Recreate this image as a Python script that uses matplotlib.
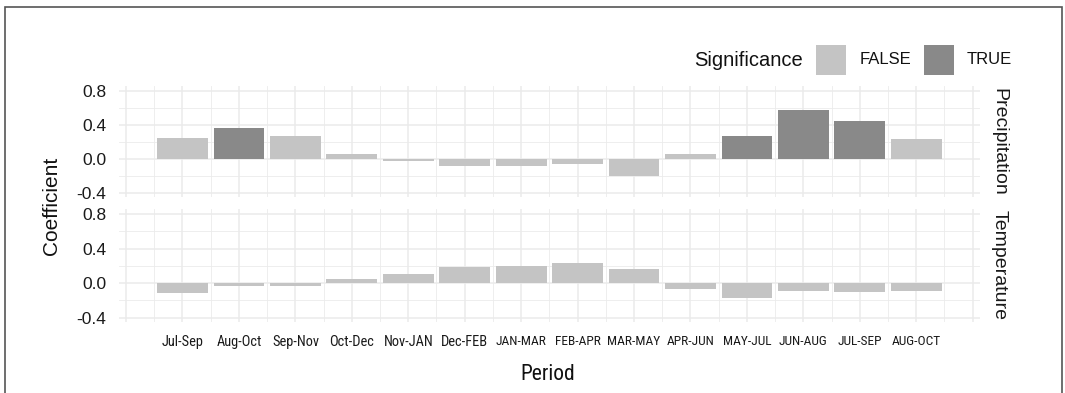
import matplotlib
matplotlib.use("Agg")
import matplotlib.pyplot as plt
from matplotlib import font_manager
from matplotlib.patches import Rectangle
from matplotlib.ticker import FixedLocator


periods = ["Jul-Sep", "Aug-Oct", "Sep-Nov", "Oct-Dec", "Nov-JAN", "Dec-FEB", "JAN-MAR",
           "FEB-APR", "MAR-MAY", "APR-JUN", "MAY-JUL", "JUN-AUG", "JUL-SEP", "AUG-OCT"]

precip = [0.25, 0.367, 0.273, 0.055, -0.023, -0.082, -0.082,
          -0.055, -0.196, 0.059, 0.278, 0.578, 0.446, 0.238]
precip_sig = [False, True, False, False, False, False, False,
              False, False, False, True, True, True, False]

temp = [-0.117, -0.035, -0.031, 0.051, 0.105, 0.191, 0.203,
        0.23, 0.168, -0.07, -0.172, -0.09, -0.098, -0.09]
temp_sig = [False, False, False, False, False, False, False,
            False, False, False, False, False, False, False]

panels = ["Precipitation", "Temperature"]
y_ticks = [-0.4, 0.0, 0.4, 0.8]
y_minor = [-0.2, 0.2, 0.6]

COLORS = {False: "#c4c4c4", True: "#898989"}
GRID = "#ebebeb"

W, H = 1065, 393
_names = {f.name for f in font_manager.fontManager.ttflist}
REG = "Liberation Sans"
NARROW = None
for cand in ["Liberation Sans Narrow", "Roboto Condensed", "Open Sans Condensed"]:
    if cand in _names:
        NARROW = cand
        break
plt.rcParams["font.family"] = [REG, "DejaVu Sans"]

# without a narrow face the regular one is shrunk to keep label widths
if NARROW:
    tick_fam, tick_lo, tick_up, period_size = NARROW, 10.4, 9.6, 15.5
else:
    tick_fam, tick_lo, tick_up, period_size = REG, 8.6, 7.8, 14


def fx(px):
    return px / W


def fy(py):
    return 1 - py / H


fig = plt.figure(figsize=(W / 100, H / 100), dpi=100)

# panel boxes in pixels: (top, bottom)
boxes = [(86, 197), (209, 321.5)]
left, right = 119, 980

x = list(range(len(periods)))
series = [(precip, precip_sig), (temp, temp_sig)]

for i, ((top, bot), (vals, sig)) in enumerate(zip(boxes, series)):
    ax = fig.add_axes([fx(left), fy(bot), fx(right - left), (bot - top) / H])
    ax.set_xlim(-1.125, 14.13)
    ax.set_ylim(-0.445, 0.86)
    for s in ax.spines.values():
        s.set_visible(False)
    ax.yaxis.set_major_locator(FixedLocator(y_ticks))
    ax.yaxis.set_minor_locator(FixedLocator(y_minor))
    ax.xaxis.set_major_locator(FixedLocator([k for k in range(-1, 15)]))
    ax.xaxis.set_minor_locator(FixedLocator([k + 0.5 for k in range(-2, 15)]))
    ax.grid(True, which="major", color=GRID, linewidth=1.1)
    ax.grid(True, which="minor", color=GRID, linewidth=0.6)
    ax.set_axisbelow(True)
    ax.tick_params(which="both", length=0)
    ax.set_yticklabels([f"{t:.1f}" for t in y_ticks], fontsize=12.5, color="#1a1a1a")
    ax.tick_params(axis="y", pad=9)

    ax.bar(x, vals, width=0.9, color=[COLORS[s] for s in sig], zorder=3)

    if i == 1:
        ax.set_xticklabels([""] + periods + [""], family=tick_fam, color="#1a1a1a")
        for lab, name in zip(ax.get_xticklabels()[1:-1], periods):
            lab.set_fontsize(tick_lo if any(c.islower() for c in name) else tick_up)
        ax.tick_params(axis="x", pad=10)
    else:
        ax.set_xticklabels([])

    fig.text(fx(999), fy((top + bot) / 2), panels[i], rotation=-90, fontsize=14,
             ha="center", va="center", color="#1a1a1a")

fig.text(fx(52), fy(206), "Coefficient", rotation=90, fontsize=15,
         ha="center", va="center", color="#111111")
fig.text(fx(548), fy(375), "Period", fontsize=period_size, family=tick_fam,
         ha="center", va="center", color="#111111")

# legend
fig.text(fx(803), fy(60), "Significance", fontsize=14.5, ha="right", va="center",
         color="#111111")
for key_x, lab_x, flag, name in [(816, 860, False, "FALSE"), (924, 967, True, "TRUE")]:
    fig.add_artist(Rectangle((fx(key_x), fy(75)), fx(30), 30 / H,
                             transform=fig.transFigure, facecolor=COLORS[flag],
                             edgecolor="none"))
    fig.text(fx(lab_x), fy(60), name, fontsize=12, ha="left", va="center",
             color="#111111")

# outer frame
fig.add_artist(Rectangle((fx(5), -0.02), fx(1062 - 5), fy(7) + 0.02,
                         transform=fig.transFigure, facecolor="none",
                         edgecolor="#555555", linewidth=1.2, clip_on=False))

fig.savefig("out.png", dpi=100)
